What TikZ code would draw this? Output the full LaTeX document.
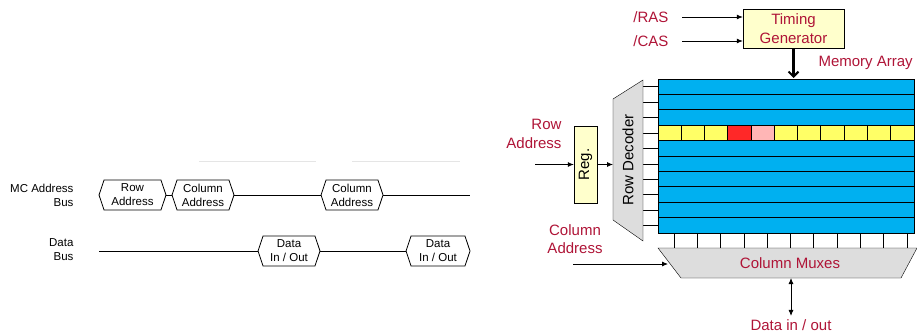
\documentclass[tikz,border=0pt]{standalone}
\usepackage{fontspec}
\setmainfont{Liberation Sans}
\usetikzlibrary{shapes.symbols,arrows.meta}
\definecolor{arrblue}{RGB}{0,176,240}
\definecolor{cellyellow}{RGB}{255,255,102}
\definecolor{cellred}{RGB}{255,40,40}
\definecolor{cellpink}{RGB}{255,182,182}
\definecolor{boxyellow}{RGB}{255,255,204}
\definecolor{muxgray}{RGB}{221,221,221}
\definecolor{lblred}{RGB}{175,20,55}
\begin{document}
\begin{tikzpicture}[x=1pt,y=-1pt,
		small/.style={font=\fontsize{11.5}{14}\selectfont},
		big/.style={font=\fontsize{15}{18.5}\selectfont},
		busval/.style={small, draw, line width=0.8pt, signal, signal to=east and west, signal pointer angle=143,
			minimum height=30pt, minimum width=62pt, inner sep=0pt, align=center},
		arr/.style={-{Latex[length=6pt,width=5pt]}, line width=0.8pt}]
	\useasboundingbox (0,0) rectangle (917,334);
	\draw[gray!20, line width=0.8pt] (199,161) -- (316,161);
	\draw[gray!20, line width=0.8pt] (352,161) -- (460,161);
	\node[small, align=right, anchor=east] (abuslbl) at (77,195) {MC Address\\Bus};
	\node[small, align=right, anchor=east] (dbuslbl) at (77,250) {Data\\Bus};
	\node[busval, minimum width=67pt] (rowaddr) at (132.5,195) {Row\\Address};
	\node[busval] (coladdr1) at (203,195) {Column\\Address};
	\node[busval] (coladdr2) at (352,195) {Column\\Address};
	\coordinate (abusend) at (470,195);
	\node[busval] (data1) at (289,251) {Data\\In / Out};
	\node[busval, minimum width=64pt] (data2) at (438,251) {Data\\In / Out};
	\coordinate (dbusstart) at (99,251);
	\draw[line width=0.8pt] (rowaddr.east) -- (coladdr1.west);
	\draw[line width=0.8pt] (coladdr1.east) -- (coladdr2.west);
	\draw[line width=0.8pt] (coladdr2.east) -- (abusend);
	\draw[line width=0.8pt] (dbusstart) -- (data1.west);
	\draw[line width=0.8pt] (data1.east) -- (data2.west);
	\node[big, draw, fill=boxyellow, text=lblred, align=center, minimum width=101pt, minimum height=39pt, inner sep=0pt] (tgen) at (793.5,28.5) {Timing\\Generator};
	\node[big, text=lblred, anchor=east] (ras) at (672,17) {/RAS};
	\node[big, text=lblred, anchor=east] (cas) at (672,41) {/CAS};
	\draw[arr] ([xshift=10pt]ras.east) -- (ras -| tgen.west);
	\draw[arr] ([xshift=10pt]cas.east) -- (cas -| tgen.west);
	\node[big, text=lblred, anchor=west] (memlbl) at (815,63) {Memory Array};
	\node[draw, fill=arrblue, line width=0.9pt, minimum width=256pt, minimum height=154pt, inner sep=0pt, anchor=north west] (memarr) at (658,79) {};
	\foreach \j in {0,...,10}
		\fill[cellyellow] (658+\j*23.27,125.2) rectangle (681.27+\j*23.27,140.6);
	\fill[cellred] (727.8,125.2) rectangle (751.1,140.6);
	\fill[cellpink] (751.1,125.2) rectangle (774.4,140.6);
	\foreach \j in {1,...,10}
		\draw[line width=0.9pt] (658+\j*23.27,125.2) -- (658+\j*23.27,140.6);
	\foreach \i in {1,...,9}
		\draw[line width=0.9pt] (658,79+\i*15.4) -- (914,79+\i*15.4);
	\draw[line width=0.9pt] (memarr.north west) rectangle (memarr.south east);
	\draw[-{Straight Barb[length=5pt,width=10pt,line width=2pt]}, line width=2.2pt] (tgen.south) -- ([yshift=1pt]tgen.south |- memarr.north);
	\foreach \i in {0,...,9}
		\draw (643,86.7+\i*15.4) -- (658,86.7+\i*15.4);
	\draw[fill=muxgray] (643,80) -- (643,241) -- (613,220) -- (613,99) -- cycle;
	\node[big, rotate=90] (rowdec) at (628,160) {Row Decoder};
	\node[big, draw, fill=boxyellow, minimum width=23pt, minimum height=77pt, inner sep=0pt] (reg) at (585.5,164.5) {\rotatebox{90}{Reg.}};
	\node[big, text=lblred, align=right, anchor=east] (rowlbl) at (565,134) {Row\\Address};
	\coordinate (rowin) at (535,164.5);
	\coordinate (decin) at (613,164.5);
	\draw[arr] (rowin) -- (reg.west);
	\draw[arr] (reg.east) -- (decin);
	\foreach \j in {0,...,10}
		\draw (674+\j*23.27,233) -- (674+\j*23.27,248);
	\draw[fill=muxgray] (658,248) -- (917,248) -- (901,278) -- (681,278) -- cycle;
	\node[big, text=lblred] (mux) at (790,263) {Column Muxes};
	\node[big, text=lblred, align=center] (collbl) at (575,239) {Column\\Address};
	\coordinate (colin) at (573,264);
	\coordinate (muxin) at (668,264);
	\draw[arr] (colin) -- (muxin);
	\node[big, text=lblred] (datalbl) at (791,325) {Data in / out};
	\coordinate (muxout) at (791,278);
	\draw[{Latex[length=6pt,width=5pt]}-{Latex[length=6pt,width=5pt]}, line width=0.8pt] (muxout) -- (datalbl.north);
\end{tikzpicture}
\end{document}
